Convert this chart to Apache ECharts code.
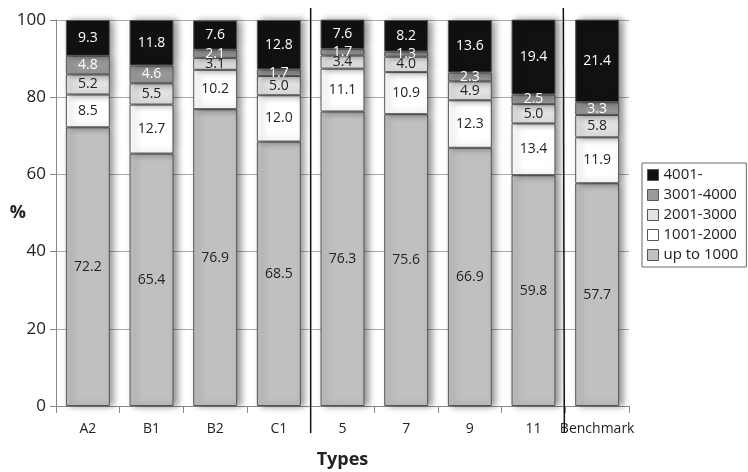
<!DOCTYPE html>
<html><head><meta charset="utf-8">
<script src="https://cdn.jsdelivr.net/npm/echarts@6/dist/echarts.min.js"></script>
<style>html,body{margin:0;padding:0;background:#fff}#c{width:748px;height:472px}</style>
</head><body><div id="c"></div>
<script>
const categories = ['A2','B1','B2','C1','5','7','9','11','Benchmark'];
const upTo1000 = [72.2,65.4,76.9,68.5,76.3,75.6,66.9,59.8,57.7];
const r1001_2000 = [8.5,12.7,10.2,12.0,11.1,10.9,12.3,13.4,11.9];
const r2001_3000 = [5.2,5.5,3.1,5.0,3.4,4.0,4.9,5.0,5.8];
const r3001_4000 = [4.8,4.6,2.1,1.7,1.7,1.3,2.3,2.5,3.3];
const r4001 = [9.3,11.8,7.6,12.8,7.6,8.2,13.6,19.4,21.4];
const seriesNames = ['up to 1000','1001-2000','2001-3000','3001-4000','4001-'];
const yTicks = [0,20,40,60,80,100];

const FONT = 'Open Sans';
const colors = ['#c0c0c0','#ffffff','#e2e2e2','#999999','#111111'];
const labelColors = ['#222','#222','#222','#fff','#fff'];
const datas = [upTo1000,r1001_2000,r2001_3000,r3001_4000,r4001];

const chart = echarts.init(document.getElementById('c'));
const series = datas.map((d,i)=>({
  name: seriesNames[i], type:'bar', stack:'s', data:d, barWidth:'69%',
  itemStyle:{color:colors[i], borderColor:'#555', borderWidth:1,
    shadowColor:'rgba(0,0,0,0.45)', shadowBlur:7, shadowOffsetX:4, shadowOffsetY:0},
  label:{show:true, position:'inside', color:labelColors[i], fontFamily:FONT, fontSize:14,
    formatter:p=>p.value.toFixed(1)},
  emphasis:{disabled:true}
}));

chart.setOption({
  animation:false,
  textStyle:{fontFamily:FONT},
  grid:{left:56,right:119,top:20,bottom:66,containLabel:false,outerBoundsMode:'none'},
  legend:{
    data:seriesNames.slice().reverse(), orient:'vertical', left:642, top:163,
    itemWidth:11, itemHeight:11, itemGap:2, borderColor:'#666', borderWidth:1,
    padding:[3,8,3,5], textStyle:{fontFamily:FONT,fontSize:15,color:'#222',lineHeight:18},
    itemStyle:{borderColor:'#555',borderWidth:1}, icon:'rect'
  },
  xAxis:{type:'category', data:categories, name:'Types', nameLocation:'middle', nameGap:45,
    nameMoveOverlap:false,
    nameTextStyle:{fontFamily:FONT,fontSize:18,fontWeight:'bold',color:'#222'},
    axisLine:{lineStyle:{color:'#888'}}, axisTick:{show:true,length:7,lineStyle:{color:'#888'}},
    axisLabel:{interval:0,fontFamily:FONT,fontSize:14,color:'#222',margin:16}},
  yAxis:{type:'value', min:yTicks[0], max:yTicks[yTicks.length-1], interval:20,
    name:'%', nameLocation:'middle', nameRotate:0, nameGap:30, nameMoveOverlap:false,
    nameTextStyle:{fontFamily:FONT,fontSize:18,fontWeight:'bold',color:'#222'},
    axisLine:{show:true,lineStyle:{color:'#888'}}, axisTick:{show:true,length:6,inside:false,lineStyle:{color:'#888'}},
    axisLabel:{fontFamily:FONT,fontSize:17,color:'#222',margin:10},
    splitLine:{lineStyle:{color:'#aaa',width:1}}},
  series
});

function sepX(i){
  const a = chart.convertToPixel({xAxisIndex:0}, categories[i]);
  const b = chart.convertToPixel({xAxisIndex:0}, categories[i+1]);
  return (a+b)/2;
}
const x1 = sepX(3), x2 = sepX(7);
chart.setOption({graphic:[
  {type:'line', shape:{x1:x1,y1:8,x2:x1,y2:433}, style:{stroke:'#111',lineWidth:1.5}, z:100},
  {type:'line', shape:{x1:x2-2,y1:8,x2:x2-1,y2:433}, style:{stroke:'#111',lineWidth:1.5}, z:100}
]});
</script></body></html>
